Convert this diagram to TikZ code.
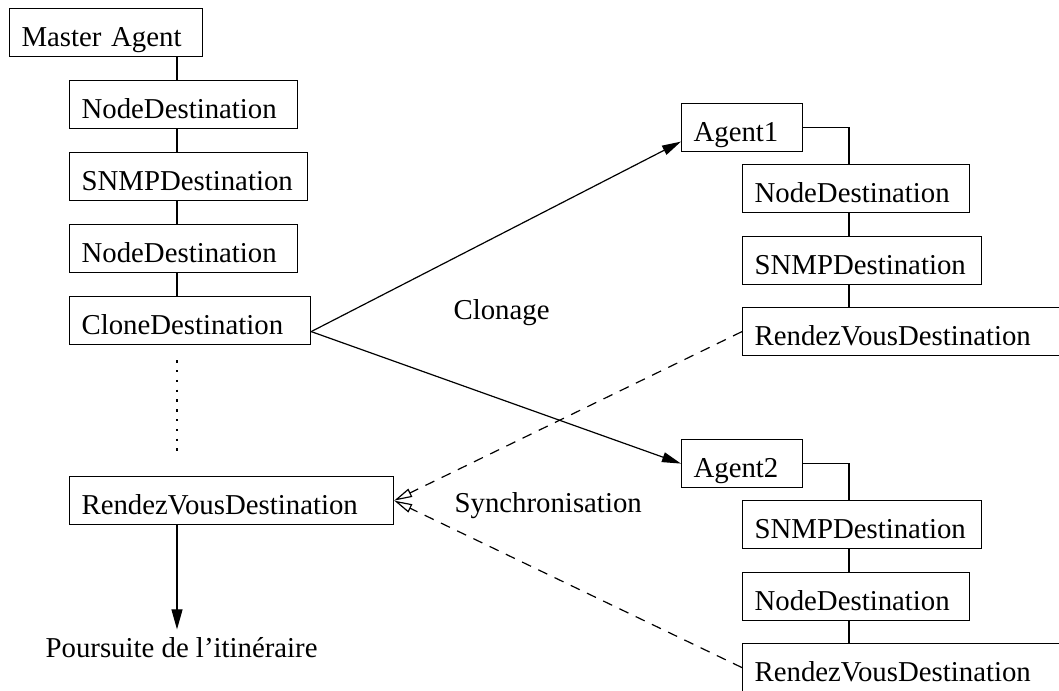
\documentclass[tikz,border=0pt]{standalone}
\usepackage{fontspec}
\setmainfont{Liberation Serif}
\usetikzlibrary{arrows.meta,calc}

\begin{document}
\begin{tikzpicture}[x=1pt,y=-1pt,
  line width=1.2pt,
  every node/.style={font=\fontsize{28.8}{34}\selectfont},
  box/.style={draw, anchor=north west, inner xsep=12pt, inner ysep=0pt,
    minimum height=48pt, text height=27pt, text depth=0pt,
    text width=#1, align=left},
  label/.style={anchor=base west, inner sep=0pt},
  link/.style={line width=1.2pt},
  clone/.style={-{Triangle[length=19pt,width=10pt]}},
  sync/.style={dash pattern=on 10pt off 8pt,
    -{Triangle[open,length=18pt,width=9pt]}},
  elide/.style={line width=2.4pt, dash pattern=on 2.4pt off 7.4pt}]

\useasboundingbox (0,0) rectangle (1059,690);
\clip (0,0) rectangle (1059,690);

% column axes for the vertical links
\coordinate (colL) at (177,0);
\coordinate (colR) at (849,0);

% master agent itinerary
\node[box=169pt] (ma)  at (9,8)    {Master Agent};
\node[box=204pt] (n1)  at (69,80)  {NodeDestination};
\node[box=214pt] (s1)  at (69,152) {SNMPDestination};
\node[box=204pt] (n2)  at (69,224) {NodeDestination};
\node[box=217pt] (cl)  at (69,296) {CloneDestination};
\node[box=300pt] (rv)  at (69,476) {RendezVousDestination};
\node[label, inner ysep=7pt] (next) at (45,657) {Poursuite de l’itinéraire};

% first clone
\node[box=97pt]  (a1)   at (681,103) {Agent1};
\node[box=203pt] (an1)  at (742,164) {NodeDestination};
\node[box=215pt] (as1)  at (742,236) {SNMPDestination};
\node[box=300pt] (arv1) at (742,307) {RendezVousDestination};

% second clone
\node[box=97pt]  (a2)  at (681,439) {Agent2};
\node[box=215pt] (bs)  at (742,500) {SNMPDestination};
\node[box=203pt] (bn)  at (742,572) {NodeDestination};
\node[box=300pt] (brv) at (742,643) {RendezVousDestination};

% labels
\node[label] (lclone) at (453,319) {Clonage};
\node[label] (lsync)  at (454,512) {Synchronisation};

% links in the master itinerary
\draw[link] (ma.south -| colL) -- (n1.north -| colL);
\draw[link] (n1.south -| colL) -- (s1.north -| colL);
\draw[link] (s1.south -| colL) -- (n2.north -| colL);
\draw[link] (n2.south -| colL) -- (cl.north -| colL);
\draw[elide] ($(cl.south -| colL)+(0,15)$) -- ($(rv.north -| colL)+(0,-19)$);
\draw[link, -{Triangle[length=20pt,width=11pt]}] (rv.south -| colL) -- (next.north -| colL);

% links in the clone itineraries
\draw[link] (a1.east) -| (an1.north -| colR);
\draw[link] (an1.south -| colR) -- (as1.north -| colR);
\draw[link] (as1.south -| colR) -- (arv1.north -| colR);
\draw[link] (a2.east) -| (bs.north -| colR);
\draw[link] (bs.south -| colR) -- (bn.north -| colR);
\draw[link] (bn.south -| colR) -- (brv.north -| colR);

% cloning
\coordinate (fork) at ([yshift=-11pt]cl.east);
\draw[link, clone] (fork) -- ([yshift=-14pt]a1.west);
\draw[link, clone] (fork) -- (a2.west);

% synchronisation
\draw[link, sync] (arv1.west) -- (rv.east);
\draw[link, sync] (brv.west) -- (rv.east);
\end{tikzpicture}
\end{document}
